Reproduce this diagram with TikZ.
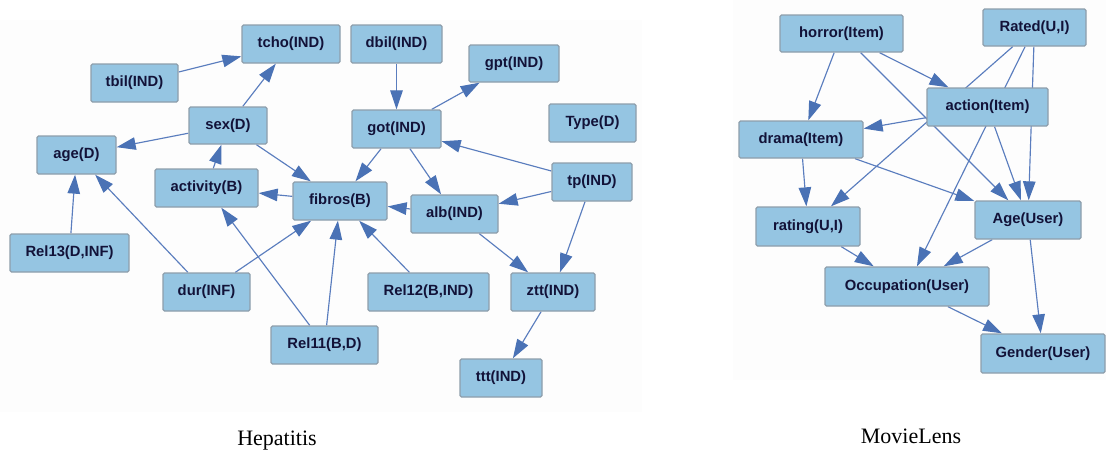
\documentclass[tikz,border=0pt]{standalone}
\usepackage{fontspec}
\setmainfont{Liberation Serif}
\setsansfont{Liberation Sans}
\usetikzlibrary{arrows.meta}
\pgfdeclarelayer{background}
\pgfdeclarelayer{edges}
\pgfsetlayers{background,edges,main}

\definecolor{nodefill}{HTML}{95C5E2}
\definecolor{nodeborder}{HTML}{8E9EAB}
\definecolor{nodetext}{HTML}{121238}
\definecolor{edgecol}{HTML}{5A7DBE}
\definecolor{arrowcol}{HTML}{4A72B5}
\definecolor{panelbg}{HTML}{FDFDFD}

\newcommand\varfont{\fontsize{14.8pt}{16pt}\selectfont\sffamily\bfseries}
\newcommand\captionfont{\fontsize{22pt}{26pt}\selectfont\rmfamily}

\tikzset{
  var/.style={draw=nodeborder, line width=1.3pt, fill=nodefill,
    rounded corners=1.5pt, text=nodetext, font=\varfont,
    inner sep=0pt, minimum height=38pt},
  link/.style={draw=edgecol, line width=1.15pt,
    -{Triangle[length=19pt,width=12.5pt,fill=arrowcol,color=arrowcol]}},
  caption/.style={font=\captionfont, anchor=base, inner sep=0pt}
}

\begin{document}
\begin{tikzpicture}[x=1pt,y=-1pt]
\useasboundingbox (0,0) rectangle (1106,450);

% white page and faint panel backgrounds
\begin{pgfonlayer}{background}
  \fill[white] (0,0) rectangle (1106,450);
  \fill[panelbg] (0,20) rectangle (642,412);
  \fill[panelbg] (733,0) rectangle (1106,380);
\end{pgfonlayer}

% ---------------- Hepatitis ----------------
\node[var, minimum width=98pt] (tcho) at (291,44) {tcho(IND)};
\node[var, minimum width=87pt] (tbil) at (134.5,83) {tbil(IND)};
\node[var, minimum width=78pt, minimum height=37pt] (sex) at (228,125.5) {sex(D)};
\node[var, minimum width=79pt] (age) at (76.5,155) {age(D)};
\node[var, minimum width=103pt] (activity) at (206.5,188) {activity(B)};
\node[var, minimum width=94pt] (fibros) at (340,201) {fibros(B)};
\node[var, minimum width=91pt] (dbil) at (396.5,44) {dbil(IND)};
\node[var, minimum width=90pt, minimum height=37pt] (gpt) at (514,63.5) {gpt(IND)};
\node[var, minimum width=89pt] (got) at (396.5,129) {got(IND)};
\node[var, minimum width=87pt] (type) at (592.5,123) {Type(D)};
\node[var, minimum width=80pt] (tp) at (592,182) {tp(IND)};
\node[var, minimum width=87pt] (alb) at (454.5,214) {alb(IND)};
\node[var, minimum width=119pt] (rel13) at (69.5,253) {Rel13(D,INF)};
\node[var, minimum width=87pt] (dur) at (206.5,292) {dur(INF)};
\node[var, minimum width=107pt] (rel11) at (324.5,345) {Rel11(B,D)};
\node[var, minimum width=121pt] (rel12) at (428.5,292) {Rel12(B,IND)};
\node[var, minimum width=84pt] (ztt) at (553,292) {ztt(IND)};
\node[var, minimum width=82pt] (ttt) at (501,378) {ttt(IND)};

\begin{pgfonlayer}{edges}
  \draw[link] (tbil) -- (tcho);
  \draw[link] (sex) -- (tcho);
  \draw[link] (sex) -- (age);
  \draw[link] (activity) -- (sex);
  \draw[link] (sex) -- (fibros);
  \draw[link] (fibros) -- (activity);
  \draw[link] (dbil) -- (got);
  \draw[link] (got) -- (gpt);
  \draw[link] (got) -- (fibros);
  \draw[link] (got) -- (alb);
  \draw[link] (tp) -- (got);
  \draw[link] (tp) -- (alb);
  \draw[link] (alb) -- (fibros);
  \draw[link] (rel13) -- (age);
  \draw[link] (dur) -- (age);
  \draw[link] (dur) -- (fibros);
  \draw[link] (rel11) -- (activity);
  \draw[link] (rel11) -- (fibros);
  \draw[link] (rel12) -- (fibros);
  \draw[link] (alb) -- (ztt);
  \draw[link] (tp) -- (ztt);
  \draw[link] (ztt) -- (ttt);
\end{pgfonlayer}

\node[caption] (caphep) at (277,445) {Hepatitis};

% ---------------- MovieLens ----------------
\node[var, minimum width=123pt, minimum height=37pt] (horror) at (841.5,33.5) {horror(Item)};
\node[var, minimum width=103pt, minimum height=37pt] (rated) at (1034.5,27.5) {Rated(U,I)};
\node[var, minimum width=121pt] (action) at (987.5,107) {action(Item)};
\node[var, minimum width=124pt, minimum height=37pt] (drama) at (801,139.5) {drama(Item)};
\node[var, minimum width=106pt] (ageu) at (1028,220) {Age(User)};
\node[var, minimum width=104pt, minimum height=39pt] (rating) at (808,226.5) {rating(U,I)};
\node[var, minimum width=164pt, minimum height=39pt] (occ) at (907,286.5) {Occupation(User)};
\node[var, minimum width=124pt, minimum height=39pt] (gender) at (1043,353.5) {Gender(User)};

\begin{pgfonlayer}{edges}
  \draw[link] (horror) -- (drama);
  \draw[link] (horror) -- (action);
  \draw[link] (horror) -- (ageu);
  \draw[link] (rated) -- (rating);
  \draw[link] (rated) -- (occ);
  \draw[link] (rated) -- (ageu);
  \draw[link] (action) -- (drama);
  \draw[link] (action) -- (ageu);
  \draw[link] (drama) -- (rating);
  \draw[link] (drama) -- (ageu);
  \draw[link] (rating) -- (occ);
  \draw[link] (ageu) -- (occ);
  \draw[link] (occ) -- (gender);
  \draw[link] (ageu) -- (gender);
\end{pgfonlayer}

\node[caption] (capmov) at (911,443) {MovieLens};
\end{tikzpicture}
\end{document}
